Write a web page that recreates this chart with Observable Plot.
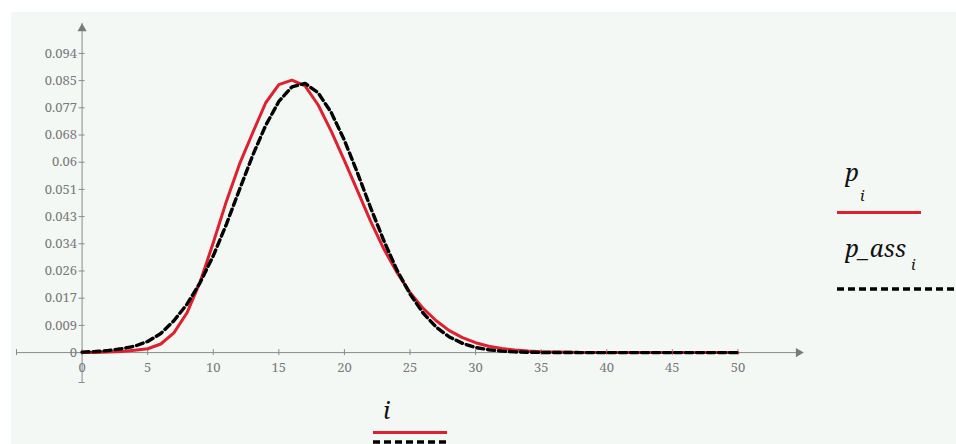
<!DOCTYPE html>
<html>
<head>
<meta charset="utf-8">
<script src="https://cdn.jsdelivr.net/npm/d3@7"></script>
<script src="https://cdn.jsdelivr.net/npm/@observablehq/plot@0.6"></script>
<style>
  html, body { margin: 0; padding: 0; background: #ffffff; }
  #wrap { position: relative; width: 956px; height: 444px; overflow: hidden; background: #ffffff; }
  #bg { position: absolute; left: 11px; top: 12px; right: 0; bottom: 0; background: #f4f8f5; }
  #chart { position: absolute; left: 0; top: 0; }
  #legend { position: absolute; left: 0; top: 0; }
</style>
</head>
<body>
<div id="wrap"><div id="bg"></div><div id="chart"></div><svg id="legend" width="956" height="444"></svg></div>
<script>
// index i
const idx = d3.range(0, 51);
// p_i (red, solid)
const pI = [0.00002, 0.00006, 0.00015, 0.00035, 0.0007, 0.0012, 0.0027, 0.0062, 0.0125, 0.0222,
            0.0345, 0.0475, 0.0592, 0.0690, 0.0785, 0.0842, 0.0856, 0.0838, 0.0778, 0.0695,
            0.0603, 0.0508, 0.0412, 0.0326, 0.0252, 0.0189, 0.0139, 0.0100, 0.0069, 0.0047,
            0.0031, 0.0020, 0.0013, 0.0008, 0.0005, 0.0003, 0.0002, 0.0001, 0.00006, 0.00003,
            0.00002, 0.00001, 0.00001, 0, 0, 0, 0, 0, 0, 0, 0];
// p_ass_i (black, dashed)
const pAss = [0.00016, 0.00032, 0.00064, 0.0012, 0.0020, 0.0035, 0.0060, 0.0100, 0.0152, 0.0220,
              0.0304, 0.0403, 0.0512, 0.0619, 0.0714, 0.0789, 0.0835, 0.0846, 0.0816, 0.0754,
              0.0667, 0.0564, 0.0455, 0.0352, 0.0260, 0.0184, 0.0124, 0.0080, 0.0049, 0.0029,
              0.0016, 0.0009, 0.00046, 0.00022, 0.0001, 0.00005, 0.00002, 0.00001, 0, 0,
              0, 0, 0, 0, 0, 0, 0, 0, 0, 0, 0];
// ticks
const xTicks = [0, 5, 10, 15, 20, 25, 30, 35, 40, 45, 50];
const yTickValues = [0, 0.008545, 0.017091, 0.025636, 0.034182, 0.042727, 0.051273, 0.059818, 0.068364, 0.076909, 0.085455, 0.094];
const yTickLabels = ["0", "0.009", "0.017", "0.026", "0.034", "0.043", "0.051", "0.06", "0.068", "0.077", "0.085", "0.094"];

const xDomain = [-5, 55];
const yDomain = [-0.0094, 0.1034];

const rows = idx.map((i, k) => ({i, p: pI[k], pa: pAss[k]}));
const yTicks = yTickValues.map((v, k) => ({v, label: yTickLabels[k]}));

const axisColor = "#8a8a8a";
const labelColor = "#7a7a7a";
const serif = "\"Noto Serif\", \"Liberation Serif\", serif";
const xHalf = 0.23;      // half tick length in x units
const yHalf = 0.00094;   // half tick length in y units

const chart = Plot.plot({
  width: 956,
  height: 444,
  marginLeft: 16,
  marginRight: 153,
  marginTop: 23,
  marginBottom: 62,
  x: {domain: xDomain, axis: null},
  y: {domain: yDomain, axis: null},
  style: {background: "none", fontFamily: serif, overflow: "visible"},
  marks: [
    // axes
    Plot.ruleY([0], {y: d => d, stroke: axisColor, strokeWidth: 1}),
    Plot.ruleX([0], {x: d => d, stroke: axisColor, strokeWidth: 1}),
    Plot.ruleX(xTicks, {x: d => d, y1: -yHalf, y2: yHalf, stroke: axisColor}),
    Plot.ruleX([xDomain[0]], {x: d => d, y1: -yHalf, y2: yHalf, stroke: axisColor}),
    Plot.ruleY(yTicks, {y: "v", x1: -xHalf, x2: xHalf, stroke: axisColor}),
    Plot.ruleY([yDomain[0]], {y: d => d, x1: -xHalf, x2: xHalf, stroke: axisColor}),
    Plot.dot([yDomain[1]], {x: () => 0, y: d => d, symbol: "triangle", r: 3.4, fill: "#7a7a7a", stroke: "none", dy: 5}),
    Plot.dot([xDomain[1]], {x: d => d, y: () => 0, symbol: "triangle", r: 3.4, fill: "#7a7a7a", stroke: "none", rotate: 90, dx: -5}),
    Plot.text(xTicks, {x: d => d, y: () => 0, text: d => String(d), dy: 15, fill: labelColor, fontSize: 13, fontFamily: serif}),
    Plot.text(yTicks, {x: () => 0, y: "v", text: "label", dx: -5, textAnchor: "end", fill: labelColor, fontSize: 13, fontFamily: serif}),
    // series
    Plot.line(rows, {x: "i", y: "p", stroke: "#e0202f", strokeWidth: 3}),
    Plot.line(rows, {x: "i", y: "pa", stroke: "#000000", strokeWidth: 3.4, strokeDasharray: "7,4"})
  ]
});
document.getElementById("chart").appendChild(chart);

// legend (Mathcad-style trace labels)
const lg = d3.select("#legend");
function label(x, y, main, sub, subDx, subDy) {
  lg.append("text").attr("x", x).attr("y", y)
    .style("font-family", serif).style("font-style", "italic").style("font-size", "24px").attr("fill", "#111")
    .text(main);
  if (sub) {
    lg.append("text").attr("x", x + subDx).attr("y", y + subDy)
      .style("font-family", serif).style("font-style", "italic").style("font-size", "15px").attr("fill", "#111").text(sub);
  }
}
label(845, 181, "p", "i", 15, 20);
lg.append("line").attr("x1", 837).attr("x2", 921).attr("y1", 212.5).attr("y2", 212.5)
  .attr("stroke", "#e0202f").attr("stroke-width", 3);
label(845, 257, "p_ass", "i", 66, 13);
lg.append("line").attr("x1", 837).attr("x2", 956).attr("y1", 289).attr("y2", 289)
  .attr("stroke", "#000").attr("stroke-width", 3.4).attr("stroke-dasharray", "7,4");
label(383, 419, "i", null);
lg.append("line").attr("x1", 373).attr("x2", 447).attr("y1", 432.5).attr("y2", 432.5)
  .attr("stroke", "#e0202f").attr("stroke-width", 3);
lg.append("line").attr("x1", 373).attr("x2", 447).attr("y1", 442).attr("y2", 442)
  .attr("stroke", "#000").attr("stroke-width", 3.4).attr("stroke-dasharray", "7,4");
</script>
</body>
</html>
